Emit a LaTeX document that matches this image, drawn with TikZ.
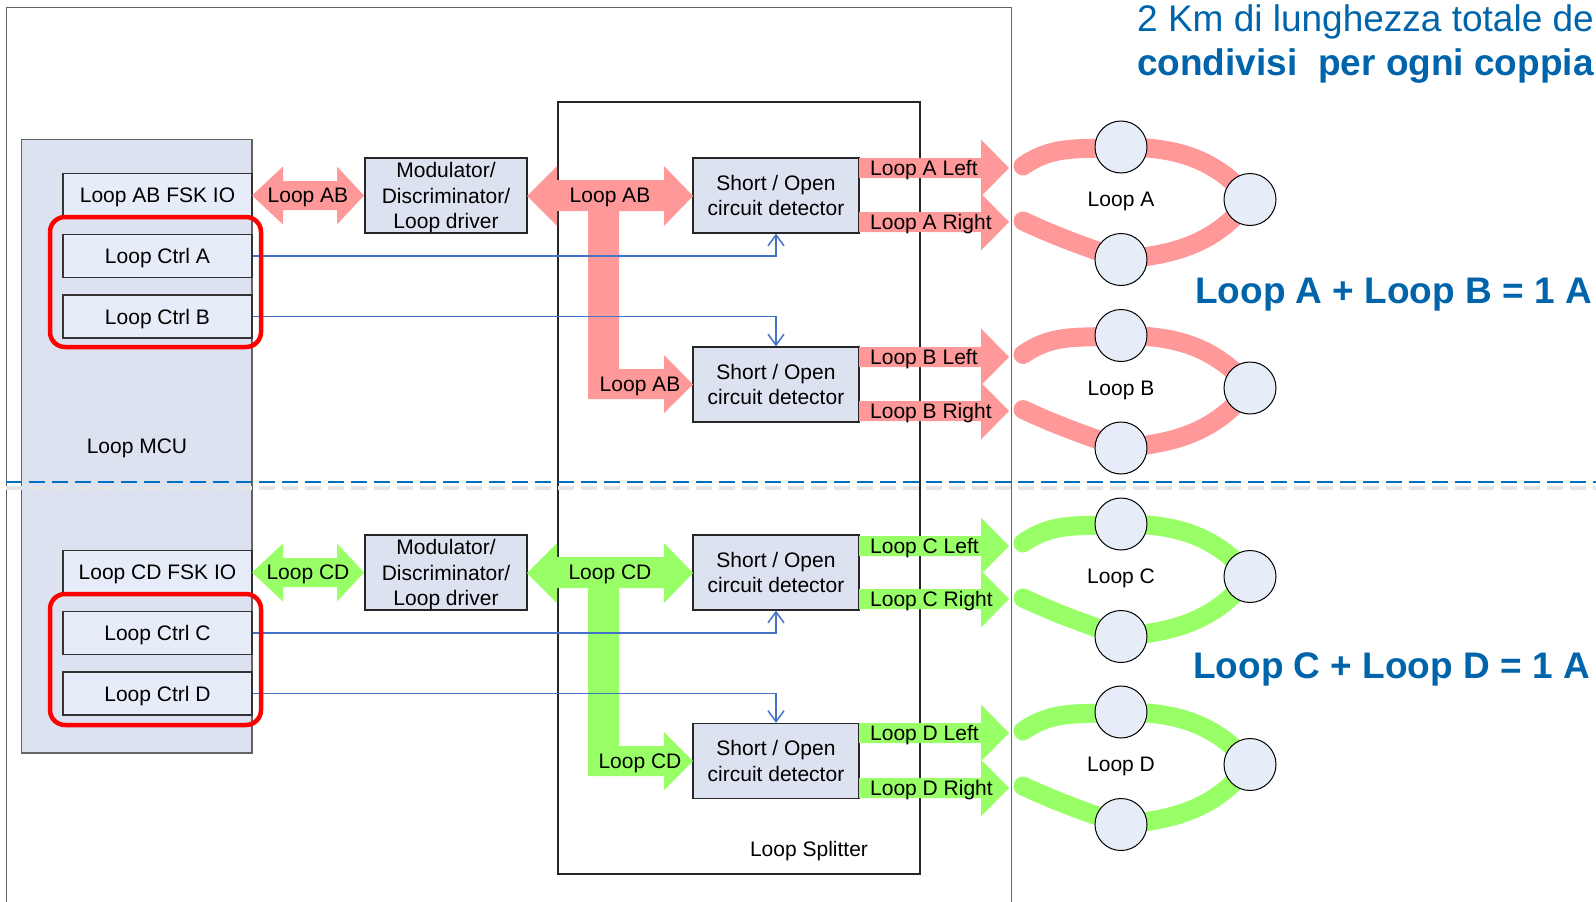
\documentclass[tikz,border=0pt]{standalone}
\usepackage{fontspec}
\setmainfont{Liberation Sans}
\usetikzlibrary{arrows.meta}

\definecolor{pinkarrow}{RGB}{255,153,153}
\definecolor{greenarrow}{RGB}{153,255,102}
\definecolor{boxfill}{RGB}{220,226,240}
\definecolor{ioboxfill}{RGB}{231,237,248}
\definecolor{ctrlblue}{RGB}{68,114,196}
\definecolor{titleblue}{RGB}{0,100,170}
\definecolor{dashblue}{RGB}{0,112,192}
\definecolor{framegray}{RGB}{100,100,100}

\tikzset{
  iobox/.style={draw=black!80, line width=1.2pt, fill=ioboxfill, minimum width=189, minimum height=43},
  blockbox/.style={draw=black!85, line width=1.2pt, fill=boxfill, align=center},
  detbox/.style={blockbox, minimum width=166, minimum height=75},
  modbox/.style={blockbox, minimum width=162, minimum height=75},
  ctrlline/.style={ctrlblue, line width=1.5pt, -{Straight Barb[length=11pt,width=16pt]}},
  redframe/.style={red, line width=4.5pt, rounded corners=15pt},
  bandab/.style={pinkarrow, line width=19pt, line cap=round},
  bandcd/.style={greenarrow, line width=19pt, line cap=round},
  loopcirc/.style={circle, draw=black, line width=1pt, fill=ioboxfill, minimum size=52},
  bigtext/.style={titleblue, anchor=base west, font=\fontsize{37}{40}\selectfont}
}

\begin{document}
\begin{tikzpicture}[x=1pt,y=1pt]
                  \tikzstyle{every node}+=[inner sep=0pt, text depth=0pt, font=\fontsize{21}{25.5}\selectfont]
                  \useasboundingbox (0,0) rectangle (1596,-902);
                  % frames
                  \draw [framegray, line width=1pt] (6.5,-902) -- (6.5,-7.5) -- (1011,-7.5) -- (1011,-902);
                  \draw [framegray, line width=1.2pt, fill=boxfill] (21.5,-139.5) rectangle (252,-753);
                  \node (mcu) at (137,-446) {Loop MCU};
                  \draw [black!85, line width=1.2pt] (558,-102) rectangle (920,-874);
                  \node (splitter) at (809,-849) {Loop Splitter};
                  % separator
                  \draw [black!10, line width=4pt, dash pattern=on 16pt off 7pt, dash phase=17pt] (0,-488) -- (1596,-488);
                  \draw [dashblue, line width=2.2pt, dash pattern=on 16pt off 7pt, dash phase=17pt] (0,-482) -- (1596,-482);
                  % MCU ports
                  \node [iobox] (fskab) at (157.5,-195) {Loop AB FSK IO};
                  \node [iobox] (ctrla) at (157.5,-256) {Loop Ctrl A};
                  \node [iobox] (ctrlb) at (157.5,-316.5) {Loop Ctrl B};
                  \node [iobox] (fskcd) at (157.5,-572) {Loop CD FSK IO};
                  \node [iobox] (ctrlc) at (157.5,-633) {Loop Ctrl C};
                  \node [iobox] (ctrld) at (157.5,-693.5) {Loop Ctrl D};
                  \node [modbox] (modab) at (446,-195.5) {Modulator/\\Discriminator/\\Loop driver};
                  \node [modbox] (modcd) at (446,-572.5) {Modulator/\\Discriminator/\\Loop driver};
                  \node [detbox] (deta) at (776,-195.5) {Short / Open\\circuit detector};
                  \node [detbox] (detb) at (776,-384.5) {Short / Open\\circuit detector};
                  \node [detbox] (detc) at (776,-572.5) {Short / Open\\circuit detector};
                  \node [detbox] (detd) at (776,-761) {Short / Open\\circuit detector};
                  % block arrows AB
                  \fill [pinkarrow] (252,-195.5) -- (283,-166.5) -- (283,-181) -- (337,-181) -- (337,-166.5) -- (364,-195.5) -- (337,-224.5) -- (337,-210) -- (283,-210) -- (283,-224.5) -- cycle;
                  \fill [pinkarrow] (527,-196) -- (557,-166) -- (557,-180) -- (664,-180) -- (664,-166) -- (693,-196) -- (664,-226) -- (664,-211) -- (619,-211) -- (619,-369) -- (664,-369) -- (664,-355) -- (693,-384.5) -- (664,-413) -- (664,-399) -- (588,-399) -- (588,-211) -- (557,-211) -- (557,-226) -- cycle;
                  \fill [pinkarrow] (859,-158) -- (981,-158) -- (981,-139.5) -- (1009,-168) -- (981,-196.5) -- (981,-178) -- (859,-178) -- cycle;
                  \fill [pinkarrow] (859,-212) -- (981,-212) -- (981,-193.5) -- (1009,-222) -- (981,-250.5) -- (981,-232) -- (859,-232) -- cycle;
                  \fill [pinkarrow] (859,-347) -- (981,-347) -- (981,-328.5) -- (1009,-357) -- (981,-385.5) -- (981,-367) -- (859,-367) -- cycle;
                  \fill [pinkarrow] (859,-401) -- (981,-401) -- (981,-382.5) -- (1009,-411) -- (981,-439.5) -- (981,-421) -- (859,-421) -- cycle;
                  % block arrows CD
                  \fill [greenarrow] (252,-572.5) -- (283,-543.5) -- (283,-558) -- (337,-558) -- (337,-543.5) -- (364,-572.5) -- (337,-601.5) -- (337,-587) -- (283,-587) -- (283,-601.5) -- cycle;
                  \fill [greenarrow] (527,-573) -- (557,-543) -- (557,-557) -- (664,-557) -- (664,-543) -- (693,-573) -- (664,-603) -- (664,-588) -- (619,-588) -- (619,-746) -- (664,-746) -- (664,-732) -- (693,-761) -- (664,-790) -- (664,-776) -- (588,-776) -- (588,-588) -- (557,-588) -- (557,-603) -- cycle;
                  \fill [greenarrow] (859,-536) -- (981,-536) -- (981,-517.5) -- (1009,-546) -- (981,-574.5) -- (981,-556) -- (859,-556) -- cycle;
                  \fill [greenarrow] (859,-589) -- (981,-589) -- (981,-570.5) -- (1009,-599) -- (981,-627.5) -- (981,-609) -- (859,-609) -- cycle;
                  \fill [greenarrow] (859,-723) -- (981,-723) -- (981,-704.5) -- (1009,-733) -- (981,-761.5) -- (981,-743) -- (859,-743) -- cycle;
                  \fill [greenarrow] (859,-778) -- (981,-778) -- (981,-759.5) -- (1009,-788) -- (981,-816.5) -- (981,-798) -- (859,-798) -- cycle;
                  % arrow labels
                  \node (busab) at (308,-195.5) {Loop AB};
                  \node (trunkab) at (610,-195.5) {Loop AB};
                  \node (branchab) at (640,-384.5) {Loop AB};
                  \node (buscd) at (308,-572.5) {Loop CD};
                  \node (trunkcd) at (610,-572.5) {Loop CD};
                  \node (branchcd) at (640,-761) {Loop CD};
                  \node [anchor=west] (outal) at (870,-168) {Loop A Left};
                  \node [anchor=west] (outar) at (870,-222) {Loop A Right};
                  \node [anchor=west] (outbl) at (870,-357) {Loop B Left};
                  \node [anchor=west] (outbr) at (870,-411) {Loop B Right};
                  \node [anchor=west] (outcl) at (870,-546) {Loop C Left};
                  \node [anchor=west] (outcr) at (870,-599) {Loop C Right};
                  \node [anchor=west] (outdl) at (870,-733) {Loop D Left};
                  \node [anchor=west] (outdr) at (870,-788) {Loop D Right};
                  % control lines
                  \draw [ctrlline] (ctrla.east) -| (deta.south);
                  \draw [ctrlline] (ctrlb.east) -| (detb.north);
                  \draw [ctrlline] (ctrlc.east) -| (detc.south);
                  \draw [ctrlline] (ctrld.east) -| (detd.north);
                  \draw [redframe] (50,-217) rectangle (261,-347);
                  \draw [redframe] (50,-594) rectangle (261,-725);
                  % field loops
                  \coordinate (ea1) at (1023,-166);
                  \coordinate (ea2) at (1023,-221);
                  \coordinate (pa1) at (1121,-147);
                  \coordinate (pa2) at (1250,-199.5);
                  \coordinate (pa3) at (1121,-259.5);
                  \coordinate (eb1) at (1023,-354.5);
                  \coordinate (eb2) at (1023,-409.5);
                  \coordinate (pb1) at (1121,-335.5);
                  \coordinate (pb2) at (1250,-388);
                  \coordinate (pb3) at (1121,-448);
                  \coordinate (ec1) at (1023,-543);
                  \coordinate (ec2) at (1023,-598);
                  \coordinate (pc1) at (1121,-524);
                  \coordinate (pc2) at (1250,-576.5);
                  \coordinate (pc3) at (1121,-636.5);
                  \coordinate (ed1) at (1023,-731);
                  \coordinate (ed2) at (1023,-786);
                  \coordinate (pd1) at (1121,-712);
                  \coordinate (pd2) at (1250,-764.5);
                  \coordinate (pd3) at (1121,-824.5);
                  \draw [bandab] (ea1) to[out=35,in=185] (pa1) to[out=0,in=130] (pa2) to[out=232,in=5] (pa3) to[out=160,in=-25] (ea2);
                  \draw [bandab] (eb1) to[out=35,in=185] (pb1) to[out=0,in=130] (pb2) to[out=232,in=5] (pb3) to[out=160,in=-25] (eb2);
                  \draw [bandcd] (ec1) to[out=35,in=185] (pc1) to[out=0,in=130] (pc2) to[out=232,in=5] (pc3) to[out=160,in=-25] (ec2);
                  \draw [bandcd] (ed1) to[out=35,in=185] (pd1) to[out=0,in=130] (pd2) to[out=232,in=5] (pd3) to[out=160,in=-25] (ed2);
                  \node [loopcirc] (ca1) at (pa1) {};
                  \node [loopcirc] (ca2) at (pa2) {};
                  \node [loopcirc] (ca3) at (pa3) {};
                  \node [loopcirc] (cb1) at (pb1) {};
                  \node [loopcirc] (cb2) at (pb2) {};
                  \node [loopcirc] (cb3) at (pb3) {};
                  \node [loopcirc] (cc1) at (pc1) {};
                  \node [loopcirc] (cc2) at (pc2) {};
                  \node [loopcirc] (cc3) at (pc3) {};
                  \node [loopcirc] (cd1) at (pd1) {};
                  \node [loopcirc] (cd2) at (pd2) {};
                  \node [loopcirc] (cd3) at (pd3) {};
                  \node (loopa) at (1121,-199.5) {Loop A};
                  \node (loopb) at (1121,-388) {Loop B};
                  \node (loopc) at (1121,-576.5) {Loop C};
                  \node (loopd) at (1121,-764.5) {Loop D};
                  % notes
                  \node [bigtext] (note1) at (1137,-31) {2 Km di lunghezza totale de};
                  \node [bigtext] (note2) at (1137,-75) {\bfseries condivisi\ \ per ogni coppia};
                  \node [bigtext] (sumab) at (1195,-303) {\bfseries Loop A + Loop B = 1 A};
                  \node [bigtext] (sumcd) at (1193,-678) {\bfseries Loop C + Loop D = 1 A};
\end{tikzpicture}
\end{document}
